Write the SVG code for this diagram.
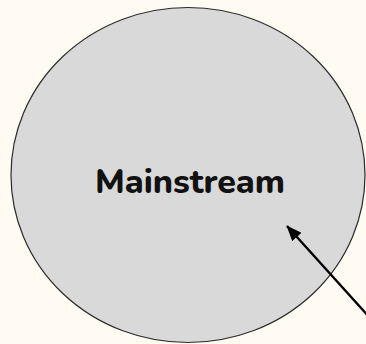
<svg xmlns="http://www.w3.org/2000/svg" width="366" height="344" viewBox="0 0 366 344">
<style>
.node{fill:#d9d9d9;stroke:#2b2b2b;stroke-width:1.2}
.label{font-family:"Nunito","Liberation Sans",Arial,sans-serif;font-weight:800;font-size:33px;fill:#111}
.edge{stroke:#000;stroke-width:2.4;fill:none}
</style>
<defs>
<marker id="ah" viewBox="0 0 10 8" refX="9.5" refY="4" markerWidth="6.5" markerHeight="5.2" markerUnits="strokeWidth" orient="auto">
<path d="M0,0 L10,4 L0,8 z" fill="#000"/>
</marker>
</defs>
<rect width="366" height="344" fill="#fffbf2"/>
<g id="mainstream">
<ellipse class="node" cx="188" cy="175" rx="177" ry="167.5"/>
<text class="label" x="190" y="193" text-anchor="middle" textLength="190" lengthAdjust="spacingAndGlyphs">Mainstream</text>
</g>
<g id="connectors">
<line class="edge" x1="370" y1="318" x2="287" y2="226" marker-end="url(#ah)"/>
</g>
</svg>
